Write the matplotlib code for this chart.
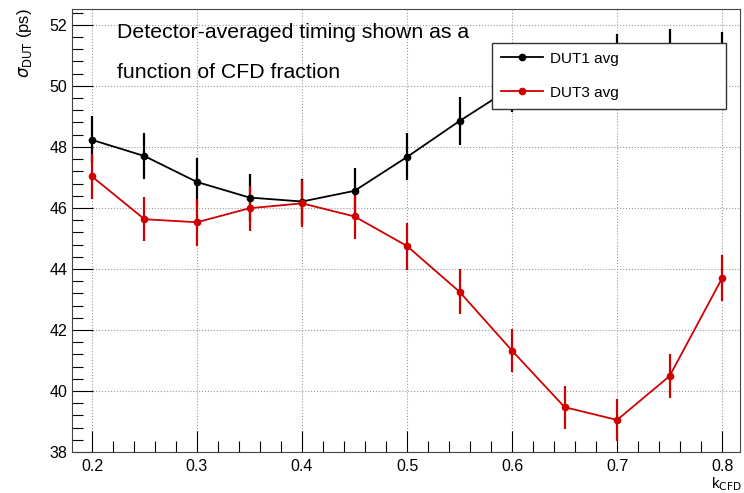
import numpy as np
import matplotlib
matplotlib.use('Agg')
import matplotlib.pyplot as plt
from matplotlib.ticker import MultipleLocator
from matplotlib.lines import Line2D

plt.rcParams['font.family'] = ['Liberation Sans', 'DejaVu Sans']

# CFD fractions
k_cfd = [0.2, 0.25, 0.3, 0.35, 0.4, 0.45, 0.5, 0.55, 0.6, 0.65, 0.7, 0.75, 0.8]

# DUT1 averaged timing resolution (ps) and errors
dut1_sigma = [48.23, 47.70, 46.85, 46.34, 46.21, 46.56, 47.67, 48.85, 49.95, 50.30, 50.90, 51.08, 51.00]
dut1_err   = [0.77, 0.76, 0.79, 0.77, 0.75, 0.75, 0.77, 0.80, 0.80, 0.78, 0.80, 0.78, 0.78]

# DUT3 averaged timing resolution (ps) and errors
dut3_sigma = [47.03, 45.63, 45.53, 45.99, 46.15, 45.72, 44.75, 43.25, 41.32, 39.47, 39.05, 40.49, 43.70]
dut3_err   = [0.74, 0.72, 0.77, 0.74, 0.78, 0.74, 0.77, 0.74, 0.70, 0.70, 0.70, 0.71, 0.75]

red = '#d00000'

fig = plt.figure(figsize=(7.44, 4.93), dpi=100)
ax = fig.add_axes([72/744, 41/493, 668/744, 443/493])

ax.errorbar(k_cfd, dut1_sigma, yerr=dut1_err, color='black', marker='o', markersize=4.5,
            linewidth=1.3, elinewidth=1.6, capsize=0)
ax.errorbar(k_cfd, dut3_sigma, yerr=dut3_err, color=red, marker='o', markersize=4.5,
            linewidth=1.3, elinewidth=1.6, capsize=0)

ax.set_xlim(0.181, 0.817)
ax.set_ylim(38, 52.52)

ax.xaxis.set_major_locator(MultipleLocator(0.1))
ax.xaxis.set_minor_locator(MultipleLocator(0.02))
ax.yaxis.set_major_locator(MultipleLocator(2))
ax.yaxis.set_minor_locator(MultipleLocator(0.4))
ax.tick_params(which='both', direction='in', top=False, right=False, labelsize=11.5)
ax.tick_params(which='major', length=15, width=0.8)
ax.tick_params(which='minor', length=8, width=0.8)
ax.tick_params(axis='x', pad=5)
ax.xaxis.set_major_formatter(plt.FuncFormatter(lambda v, p: '%.1f' % v))

ax.grid(True, which='major', linestyle=':', color='#999999', linewidth=0.8)
for s in ax.spines.values():
    s.set_linewidth(0.8)
    s.set_color('#444444')

handles = [Line2D([], [], color='black', marker='o', markersize=4.5, linewidth=1.3),
           Line2D([], [], color=red, marker='o', markersize=4.5, linewidth=1.3)]
leg = ax.legend(handles, ['DUT1 avg', 'DUT3 avg'], loc='upper left',
                bbox_to_anchor=(0.628, 0.924, 0.351, 0.0), mode='expand', borderaxespad=0,
                frameon=True, fancybox=False, edgecolor='#333333', framealpha=1, fontsize=11,
                handlelength=2.75, borderpad=0.6, labelspacing=1.3, handletextpad=0.5)
leg.get_frame().set_linewidth(1.0)

fig.text(117/744, 1-32/493, 'Detector-averaged timing shown as a', fontsize=15.3,
         ha='left', va='center')
fig.text(117/744, 1-72/493, 'function of CFD fraction', fontsize=15.3,
         ha='left', va='center')

fig.text(24/744, 1-8/493, r'$\sigma_{\rm DUT}$ (ps)', rotation=90, fontsize=12,
         ha='center', va='top')
fig.text(742/744, 0, r'k$_{\rm CFD}$', fontsize=11, ha='right', va='bottom')

fig.savefig('out.png', dpi=100)
